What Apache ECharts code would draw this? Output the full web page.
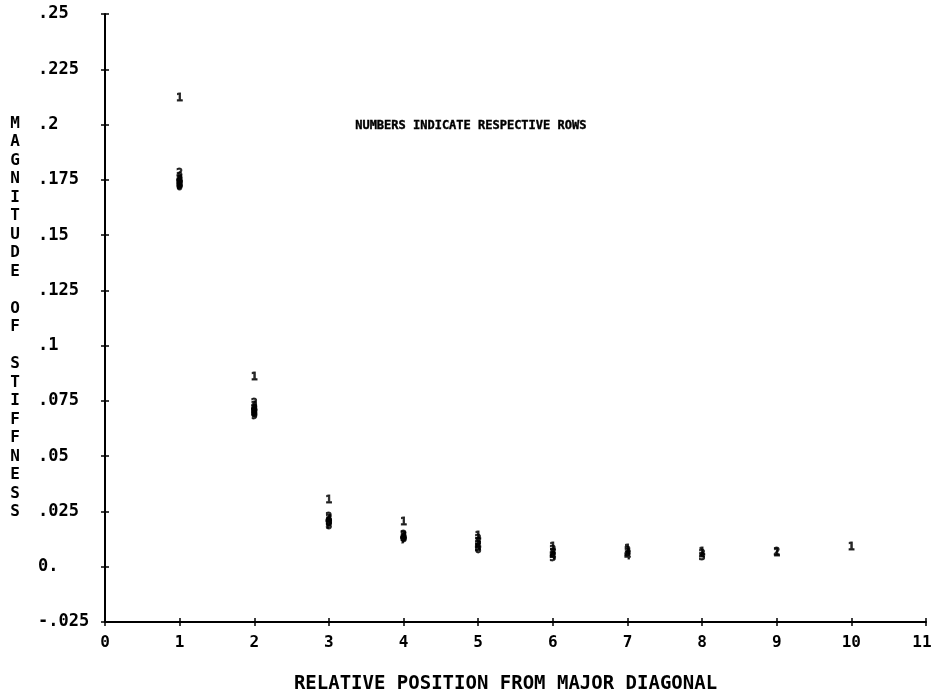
<!DOCTYPE html>
<html>
<head>
<meta charset="utf-8">
<script src="https://cdn.jsdelivr.net/npm/echarts@6/dist/echarts.min.js"></script>
<style>
  html, body { margin: 0; padding: 0; background: #fff; }
  #chart { width: 932px; height: 696px; }
</style>
</head>
<body>
<div id="chart"></div>
<script>
// Stiffness matrix: magnitude of each off-diagonal entry, by row,
// indexed by its distance from the major diagonal (1, 2, 3, ...).
const row1 = [0.212, 0.0858, 0.0302, 0.0202, 0.014, 0.009, 0.008, 0.0065, 0.006, 0.009];
const row2 = [0.178, 0.074, 0.0225, 0.0145, 0.0125, 0.0075, 0.007, 0.0055, 0.0065];
const row3 = [0.176, 0.0725, 0.0215, 0.014, 0.011, 0.006, 0.006, 0.0045];
const row4 = [0.175, 0.0715, 0.021, 0.0135, 0.0095, 0.005, 0.005];
const row5 = [0.1745, 0.071, 0.020, 0.013, 0.0085, 0.004];
const row6 = [0.174, 0.070, 0.0195, 0.0125, 0.0075];
const row7 = [0.173, 0.0695, 0.019, 0.012];
const row8 = [0.1725, 0.069, 0.0185];
const row9 = [0.172, 0.068];
const row10 = [0.1715];
const rows = [row1, row2, row3, row4, row5, row6, row7, row8, row9, row10];

const yTickLabels = ['-.025', '0.', '.025', '.05', '.075', '.1', '.125', '.15', '.175', '.2', '.225', '.25'];
const xTickLabels = ['0', '1', '2', '3', '4', '5', '6', '7', '8', '9', '10', '11'];

const MONO = '"DejaVu Sans Mono", monospace';
const INK = '#000';

const series = rows.map(function (vals, r) {
  const rowNum = r + 1;
  return {
    type: 'scatter',
    name: 'Row ' + rowNum,
    symbol: 'circle',
    symbolSize: 1,
    itemStyle: { color: 'rgba(0,0,0,0)' },
    data: vals.map(function (v, i) { return [i + 1, v]; }),
    label: {
      show: true,
      position: 'inside',
      formatter: String(rowNum % 10),
      color: INK,
      fontFamily: MONO,
      fontWeight: 'bold',
      fontSize: 11,
      textBorderColor: INK,
      textBorderWidth: 0.8
    },
    emphasis: { disabled: true },
    silent: true
  };
});

const chart = echarts.init(document.getElementById('chart'), null, { renderer: 'canvas' });

const axisLine = { show: true, onZero: false, lineStyle: { color: INK, width: 2 } };
const tickFont = { color: INK, fontFamily: MONO, fontWeight: 'bold', fontSize: 16 };

chart.setOption({
  animation: false,
  backgroundColor: '#fff',
  grid: { left: 105, right: 6, top: 14, bottom: 74, containLabel: false, outerBoundsMode: 'none' },
  xAxis: [{
    type: 'value',
    min: 0, max: 11, interval: 1,
    axisLine: axisLine,
    axisTick: { show: true, length: 4, lineStyle: { color: INK, width: 1.5 } },
    splitLine: { show: false },
    axisLabel: {
      margin: 13,
      color: INK, fontFamily: MONO, fontWeight: 'bold', fontSize: 16,
      formatter: function (v) {
        const i = Math.round(v);
        // the last label sits against the right edge, nudge it inward
        return i === xTickLabels.length - 1 ? '{edge|' + xTickLabels[i] + '}' : xTickLabels[i];
      },
      rich: {
        edge: Object.assign({ padding: [0, 8, 0, 0] }, tickFont)
      }
    },
    name: 'RELATIVE POSITION FROM MAJOR DIAGONAL',
    nameLocation: 'middle',
    nameGap: 53,
    nameTextStyle: {
      color: INK, fontFamily: MONO, fontWeight: 'bold', fontSize: 19,
      padding: [0, 20, 0, 0]
    }
  }, {
    type: 'value',
    position: 'bottom',
    min: 0, max: 11, interval: 1,
    axisLine: { show: false, onZero: false },
    axisTick: { show: true, inside: true, length: 4, lineStyle: { color: INK, width: 1.5 } },
    axisLabel: { show: false },
    splitLine: { show: false }
  }],
  yAxis: [{
    type: 'value',
    min: -0.025, max: 0.25, interval: 0.025,
    axisLine: axisLine,
    axisTick: { show: true, length: 4, lineStyle: { color: INK, width: 1.5 } },
    splitLine: { show: false },
    axisLabel: {
      margin: 67,
      align: 'left',
      color: INK, fontFamily: MONO, fontWeight: 'bold', fontSize: 17,
      formatter: function (v) { return yTickLabels[Math.round((v + 0.025) / 0.025)]; }
    },
    name: 'M\nA\nG\nN\nI\nT\nU\nD\nE\n \nO\nF\n \nS\nT\nI\nF\nF\nN\nE\nS\nS',
    nameLocation: 'middle',
    nameRotate: 0,
    nameGap: 90,
    nameTextStyle: {
      color: INK, fontFamily: MONO, fontWeight: 'bold', fontSize: 16,
      lineHeight: 18.5, align: 'center', verticalAlign: 'middle'
    }
  }, {
    type: 'value',
    position: 'left',
    min: -0.025, max: 0.25, interval: 0.025,
    axisLine: { show: false, onZero: false },
    axisTick: { show: true, inside: true, length: 4, lineStyle: { color: INK, width: 1.5 } },
    axisLabel: { show: false },
    splitLine: { show: false }
  }],
  graphic: [{
    type: 'text',
    left: 355,
    top: 120,
    silent: true,
    style: {
      text: 'NUMBERS INDICATE RESPECTIVE ROWS',
      fill: INK,
      stroke: INK,
      lineWidth: 0.4,
      font: 'bold 12px "DejaVu Sans Mono", monospace'
    }
  }],
  series: series
});
</script>
</body>
</html>
